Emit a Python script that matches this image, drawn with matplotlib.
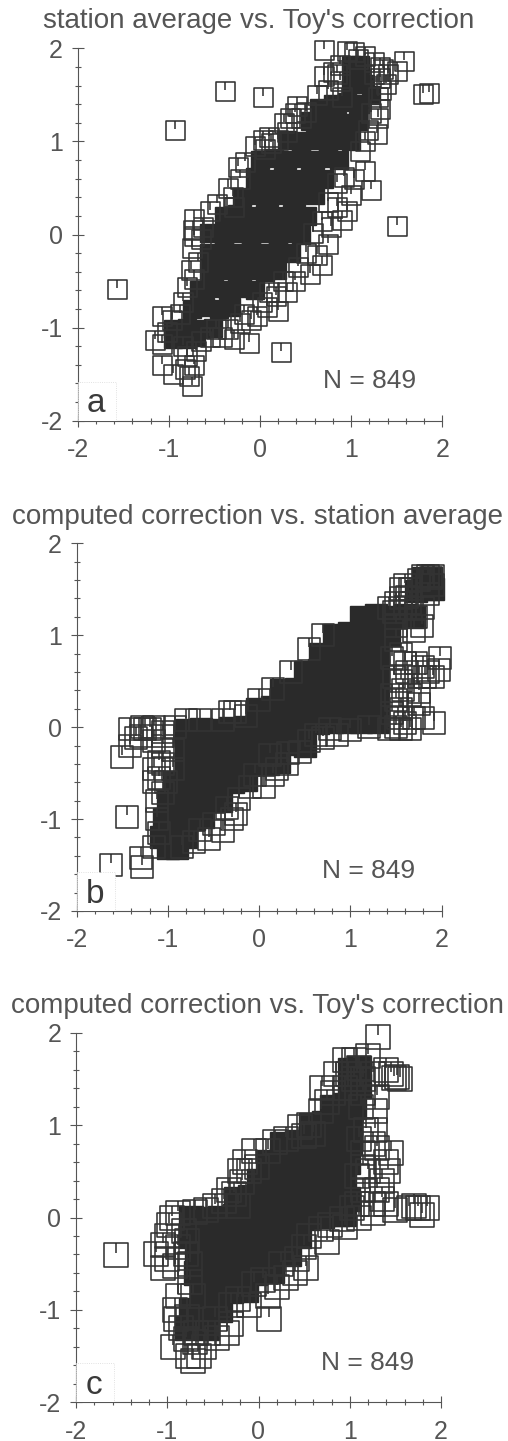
import matplotlib
matplotlib.use("Agg")
import matplotlib.pyplot as plt
from matplotlib.patches import Rectangle
from matplotlib.path import Path

plt.rcParams['font.family'] = ['Liberation Sans', 'DejaVu Sans']

W, H = 508, 1441
INK = '#555555'
DARK = '#2a2a2a'

tick_values = [-2, -1, 0, 1, 2]
tick_labels = ['-2', '-1', '0', '1', '2']
minor_values = [-1.8, -1.6, -1.4, -1.2, -0.8, -0.6, -0.4, -0.2,
                0.2, 0.4, 0.6, 0.8, 1.2, 1.4, 1.6, 1.8]

titles = ["station average vs. Toy's correction",
          "computed correction vs. station average",
          "computed correction vs. Toy's correction"]
letters = ['a', 'b', 'c']
count_label = 'N = 849'

# ---- panel a: open squares ----
open_a = [(-1.57, -0.59), (-0.93, 1.12), (-0.38, 1.54), (0.03, 1.48), (1.50, 0.09), (0.23, -1.26),
          (1.79, 1.51), (1.85, 1.52), (0.70, 1.98), (0.95, 1.97), (1.03, 1.96), (1.58, 1.86), (1.50, 1.76),
          (1.40, 1.72), (1.32, 1.80), (1.25, 1.85), (1.15, 1.92), (1.08, 1.88),
          (-1.15, -1.13), (-1.08, -0.88), (-0.97, -0.92), (-0.85, -0.72), (-0.80, -0.56), (-0.76, -0.38),
          (-0.75, -0.14), (-0.72, 0.17), (-0.62, 0.08), (-0.47, 0.33), (-0.35, 0.50), (-0.30, 0.40),
          (-0.24, 0.72), (-0.17, 0.78), (0.03, 1.02), (0.12, 0.98), (0.20, 1.02), (0.26, 1.20), (0.41, 1.38),
          (0.50, 1.32), (0.62, 1.50), (0.70, 1.70), (0.80, 1.75), (0.88, 1.82), (-0.72, -0.02), (-0.73, 0.05),
          (-1.08, -1.40), (-0.95, -1.50), (-0.82, -1.45), (-0.75, -1.63), (-0.80, -1.30), (-0.72, -1.40),
          (-0.78, -1.52), (-0.65, -1.14), (-0.42, -1.10), (-0.35, -1.02), (-0.29, -1.12), (-0.12, -1.17),
          (-0.10, -0.92), (-0.03, -0.88), (0.08, -0.78), (0.20, -0.82), (0.18, -0.66), (0.30, -0.62),
          (0.38, -0.50), (0.55, -0.42), (0.68, -0.33), (0.62, -0.22), (0.75, -0.10), (0.78, 0.08), (0.90, 0.16),
          (1.00, 0.42), (1.15, 0.68), (1.22, 0.48), (1.03, 0.60), (1.28, 1.08), (1.18, 1.12), (1.30, 1.25),
          (1.32, 1.35), (1.33, 1.55), (1.35, 1.78), (1.25, 1.72), (1.38, 1.62), (0.85, 0.30), (0.95, 0.25),
          (0.30, 1.10), (0.33, 1.25), (0.38, 1.30), (0.45, 1.25), (0.10, 1.05), (-0.05, 0.95), (0.05, 0.92),
          (-0.22, 0.60), (-0.28, 0.30), (-0.55, 0.25), (-0.65, -0.05), (-0.68, -0.30), (-0.72, -0.48), (-0.88, -0.85),
          (-1.02, -1.05), (-1.08, -1.18), (-0.85, -1.20), (-0.70, -1.25), (-0.55, -1.10), (-0.48, -1.02),
          (-0.22, -0.95), (-0.18, -0.85), (0.02, -0.72), (0.10, -0.62), (0.25, -0.50), (0.42, -0.35), (0.50, -0.20),
          (0.58, 0.02), (0.68, 0.15), (0.75, 0.35), (0.85, 0.55), (0.92, 0.62), (1.10, 0.90), (1.15, 1.00), (1.22, 1.30),
          (1.30, 1.48), (1.32, 1.68), (0.88, 1.65), (0.75, 1.55), (0.90, 1.48), (0.85, 1.72)]

# dark mass of the cloud
core_a = [(1.00, 1.82), (1.10, 1.82), (1.00, 1.62), (1.15, 1.62), (1.22, 1.50), (0.65, 1.36), (0.80, 1.40), (0.95, 1.42),
          (1.10, 1.40), (0.55, 1.22), (0.70, 1.20), (0.85, 1.22), (1.00, 1.20), (1.08, 1.22), (0.30, 1.02), (0.45, 1.00),
          (0.60, 1.02), (0.75, 1.00), (0.90, 1.02), (1.00, 1.00), (0.00, 0.80), (0.15, 0.82), (0.30, 0.80), (0.45, 0.82),
          (0.60, 0.80), (0.75, 0.82), (0.87, 0.80), (-0.05, 0.62), (0.10, 0.60), (0.25, 0.62), (0.40, 0.60), (0.55, 0.62),
          (0.70, 0.60), (-0.20, 0.40), (-0.05, 0.42), (0.10, 0.40), (0.25, 0.42), (0.40, 0.40), (0.60, 0.42), (-0.40, 0.20),
          (-0.25, 0.22), (-0.10, 0.20), (0.05, 0.22), (0.20, 0.20), (0.35, 0.22), (0.52, 0.20), (-0.56, 0.02), (-0.40, 0.00),
          (-0.25, 0.02), (-0.10, 0.00), (0.05, 0.02), (0.20, 0.00), (0.35, 0.02), (0.45, 0.00), (-0.56, -0.20), (-0.40, -0.18),
          (-0.25, -0.20), (-0.10, -0.18), (0.05, -0.20), (0.20, -0.18), (0.34, -0.20), (-0.56, -0.40), (-0.40, -0.38),
          (-0.25, -0.40), (-0.10, -0.38), (0.05, -0.40), (0.19, -0.38), (-0.67, -0.60), (-0.50, -0.58), (-0.35, -0.60),
          (-0.20, -0.58), (-0.05, -0.60), (-0.75, -0.80), (-0.60, -0.78), (-0.45, -0.80), (-0.32, -0.78), (-0.95, -1.02),
          (-0.80, -1.00), (-0.65, -1.02), (-0.52, -1.00), (-0.95, -1.12), (-0.80, -1.12), (-0.70, -1.10)]

# ---- panel b: open squares ----
open_b = [(-1.62, -1.50), (-1.45, -0.98), (-1.30, -1.42), (-1.28, -1.52), (-1.50, -0.32), (-1.42, -0.20),
          (-1.42, -0.02), (-1.28, 0.00), (-1.25, -0.02), (-1.15, 0.00), (-1.05, -0.05), (-0.32, 0.17), (-0.26, 0.17),
          (1.92, 0.04), (1.98, 0.75), (1.97, 0.62), (1.90, 0.55), (1.75, 0.55), (1.80, 0.65),
          (-0.72, -1.25), (-0.55, -1.22), (-0.40, -1.13), (-0.30, -1.00), (-0.25, -0.95), (-0.10, -0.65),
          (0.05, -0.65), (0.20, -0.45), (0.30, -0.40), (0.45, -0.27), (0.70, -0.12), (0.85, -0.08),
          (1.00, -0.03), (1.20, 0.00), (1.42, -0.02),
          (1.50, 0.95), (1.55, 0.80), (1.60, 0.70), (1.62, 0.60), (1.55, 0.50), (1.65, 0.35), (1.55, 0.20), (1.60, 0.05),
          (1.50, 0.00), (1.55, -0.02), (1.65, -0.02), (1.70, 0.10), (1.75, 0.25), (1.80, 0.10), (1.82, 0.55), (1.75, 0.38),
          (1.72, 0.70), (1.85, 0.60), (1.70, 1.05), (1.78, 1.10), (1.72, 1.20), (1.80, 1.30), (1.65, 1.50), (1.60, 1.55),
          (1.50, 1.35), (1.55, 1.50), (1.60, 1.30), (1.50, 1.10), (1.52, 0.10), (1.50, 0.30), (1.58, 0.40),
          (-1.05, -0.40), (-1.15, -0.45), (-1.10, -0.55), (-1.15, -0.60), (-1.05, -0.72), (-1.05, -0.20), (-1.15, -0.15),
          (-1.05, -0.10), (-1.20, -0.02), (-1.35, -0.12), (-1.30, -0.10), (-0.92, 0.00), (-1.12, -0.80), (-1.10, -0.38),
          (1.90, 1.64), (1.88, 1.62), (1.80, 1.64), (1.90, 1.55), (1.85, 1.64), (1.75, 1.60), (1.85, 1.45), (-1.15, -1.30),
          (-0.95, -0.25), (-0.95, -0.45), (-1.02, -0.60), (-1.12, -1.00), (-1.10, -1.15), (-0.85, -1.30), (-0.65, -1.12),
          (-0.50, -1.05), (-0.35, -0.88), (-0.22, -0.78), (-0.05, -0.52), (0.15, -0.52), (0.12, -0.30), (0.32, -0.28),
          (0.55, -0.15), (0.62, -0.08), (0.78, -0.02), (1.45, 0.15), (1.45, 0.35), (1.48, 0.55), (1.45, 0.75), (1.48, 1.25),
          (1.42, 1.30), (1.55, 1.40), (1.65, 1.35), (1.62, 1.42), (0.70, 1.00), (0.55, 0.85), (0.35, 0.60), (0.15, 0.42),
          (0.00, 0.30), (-0.15, 0.12), (-0.40, 0.08), (-0.65, 0.08), (-0.80, 0.08)]

core_b = [(1.80, 1.62), (1.88, 1.62), (1.72, 1.48), (1.85, 1.50), (1.90, 1.50), (1.12, 1.20), (1.28, 1.22), (1.44, 1.20),
          (1.60, 1.22), (1.70, 1.20), (0.82, 1.00), (0.98, 1.02), (1.14, 1.00), (1.30, 1.02), (1.42, 1.00), (0.67, 0.80),
          (0.83, 0.82), (0.99, 0.80), (1.15, 0.82), (1.30, 0.80), (0.50, 0.60), (0.66, 0.62), (0.82, 0.60), (0.98, 0.62),
          (1.14, 0.60), (1.30, 0.62), (0.24, 0.40), (0.40, 0.42), (0.56, 0.40), (0.72, 0.42), (0.88, 0.40), (1.04, 0.42),
          (1.20, 0.40), (1.30, 0.42), (-0.02, 0.20), (0.14, 0.22), (0.30, 0.20), (0.46, 0.22), (0.62, 0.20), (0.78, 0.22),
          (0.94, 0.20), (1.10, 0.22), (1.30, 0.20), (-0.80, -0.03), (-0.64, -0.02), (-0.48, -0.03), (-0.32, -0.01), (-0.16, 0.00),
          (0.00, 0.02), (0.16, 0.00), (0.32, 0.02), (0.48, 0.00), (0.64, 0.05), (0.80, 0.06), (0.96, 0.06), (1.12, 0.06),
          (1.30, 0.06), (-0.80, -0.20), (-0.64, -0.18), (-0.48, -0.20), (-0.32, -0.18), (-0.16, -0.20), (0.00, -0.18),
          (0.16, -0.20), (0.34, -0.18), (0.50, -0.20), (-0.80, -0.40), (-0.64, -0.38), (-0.48, -0.40), (-0.32, -0.38),
          (-0.16, -0.40), (0.00, -0.38), (0.10, -0.40), (0.22, -0.38), (-0.93, -0.60), (-0.77, -0.58), (-0.61, -0.60),
          (-0.45, -0.58), (-0.29, -0.60), (-0.15, -0.58), (-1.00, -0.80), (-0.84, -0.78), (-0.68, -0.80), (-0.52, -0.78),
          (-0.42, -0.80), (-1.04, -1.00), (-0.88, -0.98), (-0.72, -1.00), (-0.62, -0.98), (-1.08, -1.20), (-0.92, -1.18),
          (-0.80, -1.20), (-1.00, -1.32), (-0.90, -1.32)]

# ---- panel c: open squares ----
open_c = [(-1.56, -0.41), (0.12, -1.10), (1.31, 1.95), (1.48, 1.51), (1.55, 1.50), (1.45, 1.55), (1.40, 1.60), (1.52, 1.52),
          (1.70, 0.12), (1.85, 0.10), (1.79, 0.03), (1.65, 0.10), (1.75, 0.10), (1.50, 0.08),
          (-1.12, -0.40), (-1.05, -0.30), (-1.05, -0.55), (-1.00, -0.45), (-1.00, -0.20), (-0.98, -0.08), (-0.95, 0.00),
          (-0.88, 0.05), (-0.88, -0.32), (-0.92, -0.52), (-0.80, -0.40), (-0.75, -0.70), (-0.88, -0.85), (-0.92, -1.00),
          (-0.94, -1.40), (-0.77, -1.50), (-0.72, -1.55), (-0.65, -1.50), (-0.90, -1.10), (-0.85, -1.20), (-0.70, -1.35),
          (-0.45, -1.30), (-0.35, -1.25), (-0.30, -1.15), (-0.55, -1.25), (-0.60, -1.40), (-0.80, -1.32), (-0.10, -0.95),
          (0.95, 1.70), (1.05, 1.70), (1.20, 1.75), (0.70, 1.40), (0.85, 1.55), (0.75, 1.25), (0.55, 1.00), (0.60, 0.90),
          (1.15, 1.50), (1.25, 1.55), (1.30, 1.30), (1.28, 1.15), (1.28, 0.95), (1.25, 0.80), (1.30, 0.75), (1.45, 0.70),
          (1.40, 0.60), (1.42, 0.50), (1.35, 0.40), (1.30, 0.30), (1.35, 0.20), (1.25, 0.15), (1.40, 0.15), (1.25, 0.05),
          (1.10, 0.00), (0.95, -0.10), (0.75, -0.26), (0.52, -0.55), (0.40, -0.60), (0.30, -0.65), (0.20, -0.75), (0.10, -0.85),
          (1.15, 0.70), (1.20, 0.50), (1.15, 0.30), (1.10, 0.85), (1.05, 1.50), (1.10, 1.62), (0.98, 1.55), (1.12, 1.20),
          (-0.15, 0.60), (-0.05, 0.72), (-0.20, 0.50), (-0.10, 0.50), (-0.32, 0.30), (-0.27, 0.25), (0.10, 0.72), (0.30, 0.85),
          (0.50, 0.88), (-0.58, 0.08), (-0.70, 0.06), (-0.48, 0.12),
          (-0.82, -0.15), (-0.78, -0.25), (-0.75, -0.50), (-0.72, -0.85), (-0.78, -1.08), (-0.68, -1.25), (-0.48, -1.10),
          (-0.30, -0.95), (-0.22, -0.88), (-0.05, -0.72), (0.05, -0.68), (0.25, -0.50), (0.42, -0.45), (0.50, -0.32),
          (0.55, -0.20), (0.68, -0.12), (0.78, -0.08), (1.08, 0.15), (1.08, 0.45), (1.15, 0.55), (1.18, 0.95), (1.15, 1.35),
          (0.95, 1.40), (0.82, 1.35), (0.68, 1.15), (0.45, 0.98), (0.18, 0.82), (-0.02, 0.55), (-0.18, 0.38), (-0.38, 0.18),
          (-0.22, 0.12), (0.92, -0.02), (1.02, 0.10)]

core_c = [(1.00, 1.60), (1.10, 1.62), (1.00, 1.40), (1.10, 1.42), (0.80, 1.20), (0.95, 1.22), (1.05, 1.20), (0.58, 1.00),
          (0.72, 1.02), (0.86, 1.00), (1.00, 1.02), (0.26, 0.80), (0.42, 0.82), (0.58, 0.80), (0.74, 0.82), (0.90, 0.80),
          (1.00, 0.82), (0.10, 0.60), (0.26, 0.62), (0.42, 0.60), (0.58, 0.62), (0.74, 0.60), (0.90, 0.62), (0.98, 0.60),
          (0.00, 0.40), (0.16, 0.42), (0.32, 0.40), (0.48, 0.42), (0.64, 0.40), (0.80, 0.42), (0.94, 0.40), (-0.25, 0.20),
          (-0.09, 0.22), (0.07, 0.20), (0.23, 0.22), (0.39, 0.20), (0.55, 0.22), (0.71, 0.20), (0.87, 0.22), (0.98, 0.20),
          (-0.74, 0.00), (-0.58, -0.02), (-0.42, 0.00), (-0.26, 0.02), (-0.10, 0.00), (0.06, 0.02), (0.22, 0.00), (0.38, 0.02),
          (0.54, 0.00), (0.70, 0.02), (0.86, 0.04), (0.94, 0.04), (-0.74, -0.20), (-0.58, -0.18), (-0.42, -0.20), (-0.26, -0.18),
          (-0.10, -0.20), (0.06, -0.18), (0.22, -0.20), (0.38, -0.18), (0.44, -0.20), (-0.67, -0.40), (-0.51, -0.38),
          (-0.35, -0.40), (-0.19, -0.38), (-0.03, -0.40), (0.13, -0.38), (0.33, -0.40), (-0.68, -0.60), (-0.52, -0.58),
          (-0.36, -0.60), (-0.20, -0.58), (-0.04, -0.60), (0.15, -0.58), (-0.62, -0.80), (-0.46, -0.78), (-0.30, -0.80),
          (-0.14, -0.78), (-0.74, -1.00), (-0.58, -0.98), (-0.42, -1.00), (-0.78, -1.20), (-0.62, -1.18), (-0.56, -1.20)]

# square with the little tick hanging from the top side
tick_square = Path([(-1, -1), (1, -1), (1, 1), (-1, 1), (-1, -1), (0, 1), (0, 0.15)],
                   [Path.MOVETO, Path.LINETO, Path.LINETO, Path.LINETO, Path.CLOSEPOLY, Path.MOVETO, Path.LINETO])

# pixel box of each panel: left, right, top, bottom, square size in px, title centre
panels = [
    (77.7, 442.3, 48.3, 420.7, 19, 259, 21, open_a, core_a),
    (76.7, 441.7, 543.3, 911.0, 23, 258, 517, open_b, core_b),
    (76.0, 441.0, 1032.7, 1402.3, 24, 257, 1006, open_c, core_c),
]

fig = plt.figure(figsize=(W / 100, H / 100), dpi=100)

for i, (x0, x1, y0, y1, side, tx, ty, open_pts, core_pts) in enumerate(panels):
    ax = fig.add_axes([x0 / W, 1 - y1 / H, (x1 - x0) / W, (y1 - y0) / H])
    ax.set_xlim(-2, 2)
    ax.set_ylim(-2, 2)

    ms = side * 0.72
    ax.plot(*zip(*core_pts), ls='none', marker='s', ms=ms * 0.98, mfc=DARK, mec=DARK, mew=1.0,
            clip_on=False, zorder=3)
    ax.plot(*zip(*open_pts), ls='none', marker=tick_square, ms=ms, mfc='none', mec='#333333', mew=1.15,
            clip_on=False, zorder=4)

    # white box behind the panel letter
    ax.add_patch(Rectangle((-2, -2), 0.42, 0.42, fc='white', ec='#d8d8d8', lw=0.6, ls=':', zorder=5))
    ax.text(-1.80, -1.82, letters[i], fontsize=24, color='#3a3a3a', ha='center', va='center', zorder=6)
    ax.text(1.20, -1.57, count_label, fontsize=19, color=INK, ha='center', va='center', zorder=6)

    for s in ['top', 'right']:
        ax.spines[s].set_visible(False)
    for s in ['left', 'bottom']:
        ax.spines[s].set_color(INK)
        ax.spines[s].set_linewidth(0.8)

    ax.set_xticks(tick_values)
    ax.set_xticklabels(tick_labels)
    ax.set_yticks(tick_values)
    ax.set_yticklabels(tick_labels)
    ax.set_xticks(minor_values, minor=True)
    ax.set_yticks(minor_values, minor=True)
    ax.tick_params(which='major', direction='inout', length=9, width=0.8, color=INK,
                   labelsize=18, labelcolor=INK)
    ax.tick_params(which='minor', direction='inout', length=4.5, width=0.8, color=INK)
    ax.tick_params(axis='x', which='major', pad=8)
    ax.tick_params(axis='y', which='major', pad=6)

    fig.text(tx / W, 1 - ty / H, titles[i], fontsize=20, color=INK, ha='center', va='center')

fig.savefig('out.png', dpi=100, facecolor='white')
